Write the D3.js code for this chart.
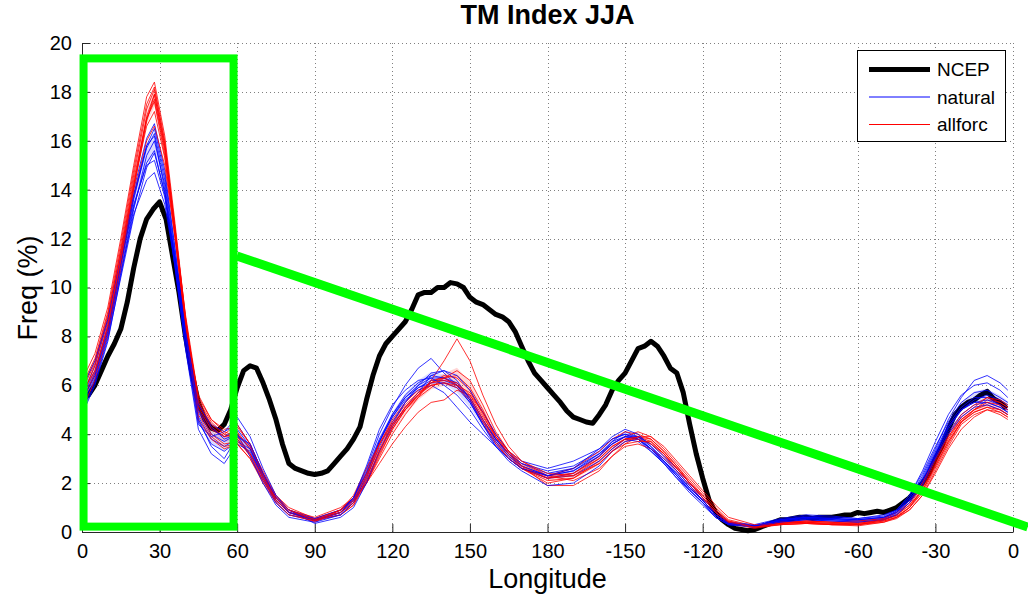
<!DOCTYPE html>
<html>
<head>
<meta charset="utf-8">
<script src="https://cdn.jsdelivr.net/npm/d3@7"></script>
<style>
  html, body { margin: 0; padding: 0; background: #fff; }
  svg { display: block; }
</style>
</head>
<body>
<svg id="chart"></svg>
<script>
"use strict";

// Longitude grid of the NCEP reanalysis (2.5 degree)
const ncepLon = d3.range(0, 360, 2.5);

// NCEP blocking frequency (%)
const ncepFreq = [
    5.4, 5.6, 6.0, 6.6, 7.2, 7.7, 8.3, 9.4, 10.8, 12.0,
    12.8, 13.2, 13.5, 12.8, 11.3, 9.8, 8.0, 6.5, 5.3, 4.6,
    4.25, 4.15, 4.4, 5.0, 5.9, 6.6, 6.8, 6.7, 6.1, 5.4,
    4.6, 3.6, 2.8, 2.6, 2.5, 2.4, 2.35, 2.4, 2.5, 2.8,
    3.1, 3.4, 3.8, 4.3, 5.4, 6.4, 7.2, 7.7, 8.0, 8.3,
    8.6, 9.1, 9.7, 9.8, 9.8, 10.0, 10.0, 10.2, 10.15, 10.0,
    9.6, 9.4, 9.3, 9.1, 8.9, 8.8, 8.6, 8.2, 7.6, 7.0,
    6.5, 6.2, 5.9, 5.6, 5.3, 4.95, 4.7, 4.6, 4.5, 4.45,
    4.8, 5.2, 5.8, 6.2, 6.5, 7.0, 7.5, 7.6, 7.8, 7.6,
    7.2, 6.7, 6.5, 5.7, 4.4, 3.2, 2.2, 1.3, 0.8, 0.5,
    0.3, 0.15, 0.1, 0.05, 0.1, 0.2, 0.3, 0.4, 0.5, 0.5,
    0.55, 0.6, 0.6, 0.55, 0.6, 0.6, 0.6, 0.65, 0.7, 0.7,
    0.8, 0.75, 0.8, 0.85, 0.8, 0.9, 1.0, 1.2, 1.4, 1.7,
    2.0, 2.4, 3.0, 3.5, 4.2, 4.8, 5.1, 5.3, 5.4, 5.6,
    5.75, 5.45, 5.3, 5.05
];

// Longitude grid of the model runs
const modelLon = [
    0, 5, 10, 15, 20, 25, 28, 32, 36, 40,
    45, 50, 55, 60, 65, 70, 75, 80, 90, 100,
    105, 110, 115, 120, 125, 130, 135, 140, 145, 150,
    155, 160, 165, 170, 180, 190, 200, 205, 210, 215,
    220, 225, 230, 235, 240, 245, 250, 260, 270, 280,
    290, 300, 310, 315, 320, 325, 330, 335, 340, 345,
    350, 355, 358
];

// "natural" ensemble members
const natural1 = [5.6,6.8,8.6,11.3,14.0,16.1,16.7,14.8,11.6,8.3, 4.9,4.0,3.7,4.0,3.4,2.2,1.2,0.7,0.45,0.8, 1.4,2.6,4.0,5.1,6.0,6.7,7.1,6.5,6.0,5.3, 4.4,3.6,3.0,2.6,2.2,2.4,3.1,3.7,4.1,3.9, 3.4,2.9,2.3,1.7,1.2,0.6,0.3,0.25,0.5,0.6, 0.55,0.5,0.6,0.85,1.4,2.3,3.4,4.6,5.5,6.2, 6.4,6.1,5.8];
const natural2 = [5.3,6.5,8.3,11.0,13.7,15.7,16.3,14.4,11.3,8.0, 4.7,3.8,3.5,3.8,3.2,2.1,1.2,0.7,0.5,0.7, 1.2,2.3,3.7,4.8,5.6,6.1,6.4,6.3,6.0,5.5, 4.6,3.8,3.2,2.8,2.4,2.6,3.2,3.7,3.9,3.8, 3.4,2.9,2.4,1.8,1.3,0.7,0.35,0.25,0.45,0.55, 0.5,0.45,0.55,0.8,1.3,2.1,3.2,4.3,5.0,5.4, 5.6,5.4,5.2];
const natural3 = [4.8,6.0,7.8,10.5,13.2,15.4,16.0,14.2,11.1,7.8, 4.5,3.6,3.3,3.7,3.4,2.3,1.3,0.8,0.55,0.9, 1.4,2.4,3.7,4.7,5.4,5.8,6.0,5.7,5.1,4.5, 4.0,3.5,3.0,2.6,2.2,2.3,2.9,3.4,3.8,3.7, 3.3,2.8,2.3,1.7,1.2,0.7,0.35,0.25,0.4,0.5, 0.45,0.4,0.5,0.75,1.2,2.0,3.1,4.1,4.8,5.2, 5.3,5.1,4.9];
const natural4 = [5.1,6.2,8.0,10.7,13.3,15.1,15.6,13.8,10.8,7.5, 4.2,3.2,2.8,3.6,3.3,2.2,1.3,0.8,0.5,0.8, 1.3,2.2,3.5,4.5,5.3,5.9,6.2,6.2,6.0,5.4, 4.5,3.8,3.2,2.8,2.5,2.7,3.3,3.8,4.0,3.8, 3.3,2.8,2.2,1.7,1.2,0.6,0.3,0.25,0.45,0.6, 0.55,0.5,0.6,0.85,1.4,2.2,3.3,4.4,5.1,5.5, 5.5,5.2,5.0];
const natural5 = [5.5,6.6,8.4,11.0,13.4,15.0,15.2,13.7,11.0,8.1, 5.0,4.2,3.9,4.2,3.5,2.3,1.4,0.9,0.5,0.8, 1.3,2.4,3.7,4.7,5.5,6.0,6.3,6.3,6.1,5.5, 4.6,3.8,3.2,2.7,2.3,2.5,3.2,3.6,3.9,3.9, 3.5,3.0,2.5,1.9,1.3,0.7,0.35,0.25,0.45,0.55, 0.5,0.45,0.55,0.8,1.3,2.0,3.1,4.2,5.0,5.3, 5.4,5.2,5.0];
const natural6 = [5.2,6.3,8.1,10.6,13.0,14.4,14.7,13.4,10.9,8.0, 5.2,4.4,4.1,4.4,3.6,2.4,1.4,0.9,0.55,0.9, 1.4,2.5,3.8,4.8,5.5,5.9,6.1,6.1,5.9,5.3, 4.4,3.7,3.1,2.7,2.3,2.5,3.1,3.6,3.9,3.8, 3.4,2.9,2.4,1.8,1.3,0.7,0.35,0.25,0.5,0.6, 0.55,0.5,0.6,0.8,1.3,2.1,3.2,4.3,5.0,5.3, 5.3,5.1,4.9];
const natural7 = [5.9,7.0,8.7,11.2,13.8,15.8,16.2,14.0,10.8,7.6, 4.4,3.9,4.1,4.7,3.9,2.6,1.5,0.9,0.35,0.6, 1.0,2.0,3.3,4.4,5.3,6.0,6.5,6.6,6.4,5.8, 4.9,4.0,3.3,2.9,2.6,2.9,3.4,3.8,4.0,3.9, 3.6,3.1,2.6,2.0,1.4,0.8,0.4,0.3,0.55,0.7, 0.65,0.55,0.7,0.9,1.5,2.5,3.7,4.8,5.6,6.0, 6.1,5.8,5.5];
const natural8 = [4.9,6.1,7.9,10.4,12.9,14.9,15.5,13.9,11.2,8.2, 5.3,4.3,3.8,4.0,3.1,2.0,1.1,0.6,0.4,0.7, 1.2,2.1,3.3,4.3,5.1,5.7,6.4,6.6,6.2,5.4, 4.4,3.5,2.9,2.5,1.9,2.0,2.7,3.3,3.7,3.8, 3.4,2.8,2.2,1.6,1.1,0.6,0.3,0.2,0.4,0.5, 0.45,0.4,0.5,0.7,1.2,1.9,3.0,4.0,4.7,5.1, 5.2,5.0,4.8];
const natural9 = [5.4,6.4,8.2,10.9,13.6,15.8,16.5,14.6,11.5,8.2, 4.6,3.5,3.0,3.9,3.6,2.4,1.4,0.8,0.5,0.8, 1.4,2.7,4.2,5.2,5.8,6.2,6.3,6.0,5.6,5.0, 4.2,3.5,3.0,2.6,2.3,2.6,3.4,3.9,4.2,4.0, 3.5,2.9,2.3,1.8,1.3,0.7,0.35,0.25,0.5,0.65, 0.6,0.55,0.65,0.9,1.5,2.4,3.5,4.5,5.3,5.7, 5.8,5.5,5.3];

// "allforc" ensemble members
const allforc1 = [6.2,7.3,9.2,12.0,15.0,17.8,18.4,16.2,12.6,8.8, 5.2,4.3,3.9,4.1,3.4,2.4,1.5,0.9,0.45,0.7, 1.1,2.0,3.2,4.2,5.0,5.6,6.1,6.4,6.3,5.8, 4.8,3.8,3.1,2.6,2.0,2.2,2.9,3.4,3.8,3.9, 3.8,3.3,2.7,2.0,1.4,0.8,0.4,0.2,0.3,0.35, 0.3,0.3,0.45,0.6,1.0,1.6,2.6,3.6,4.5,5.0, 5.4,5.3,5.1];
const allforc2 = [5.8,6.9,8.8,11.6,14.6,17.3,18.1,15.9,12.4,8.7, 5.4,4.5,4.0,3.8,3.1,2.1,1.3,0.8,0.4,0.9, 1.3,2.0,3.0,4.0,4.8,5.5,6.2,7.0,7.9,7.0, 5.6,4.4,3.5,2.9,2.3,2.4,3.1,3.6,3.9,4.1, 3.9,3.4,2.8,2.2,1.6,1.0,0.5,0.25,0.4,0.45, 0.4,0.3,0.5,0.7,1.2,2.0,3.0,3.9,4.6,5.0, 5.2,5.0,4.8];
const allforc3 = [5.3,6.4,8.3,11.0,14.0,16.8,17.9,15.8,12.4,8.8, 5.0,4.0,3.6,3.7,3.2,2.3,1.4,0.9,0.6,1.0, 1.4,2.0,2.8,3.6,4.3,4.9,5.3,5.4,5.8,5.6, 4.9,4.0,3.3,2.8,2.3,2.1,2.6,3.1,3.5,3.6, 3.4,3.0,2.5,1.9,1.3,0.7,0.35,0.15,0.3,0.35, 0.3,0.25,0.4,0.6,0.9,1.5,2.5,3.5,4.4,4.8, 5.0,4.8,4.6];
const allforc4 = [5.5,6.8,8.7,11.4,14.4,16.9,17.6,15.4,12.0,8.4, 4.8,3.9,3.5,3.6,3.0,2.1,1.3,0.8,0.5,0.7, 1.1,2.2,3.6,4.6,5.3,5.8,6.1,6.3,6.4,5.9, 5.0,3.9,3.2,2.6,2.1,2.2,2.8,3.3,3.7,3.9, 3.6,3.1,2.5,1.9,1.3,0.7,0.35,0.2,0.35,0.4, 0.35,0.4,0.5,0.7,1.1,1.9,2.9,3.9,4.7,5.1, 5.5,5.3,5.1];
const allforc5 = [5.9,7.0,8.9,11.5,14.2,16.6,17.2,15.3,12.1,8.6, 5.1,4.2,3.9,4.0,3.5,2.5,1.5,1.0,0.55,0.9, 1.4,2.4,3.6,4.5,5.2,5.7,6.0,6.1,6.0,5.5, 4.6,3.7,3.0,2.6,2.3,2.6,3.3,3.8,4.1,4.0, 3.8,3.3,2.7,2.1,1.5,0.9,0.45,0.2,0.4,0.45, 0.4,0.45,0.55,0.8,1.2,2.0,3.0,4.0,4.8,5.2, 5.5,5.4,5.2];
const allforc6 = [5.0,6.2,8.1,10.8,13.8,16.0,16.6,15.0,12.0,8.5, 5.6,4.6,4.2,4.3,3.6,2.4,1.4,0.9,0.5,0.8, 1.2,2.0,3.1,4.2,5.0,5.6,6.0,6.1,5.9,5.4, 4.5,3.6,3.0,2.6,2.2,2.4,3.0,3.5,3.8,3.9, 3.7,3.2,2.6,2.0,1.4,0.8,0.4,0.2,0.35,0.4, 0.35,0.35,0.5,0.7,1.1,1.7,2.7,3.7,4.5,4.9, 5.1,4.9,4.7];
const allforc7 = [6.0,7.1,9.0,11.8,14.8,17.5,18.2,16.0,12.3,8.3, 4.6,3.8,3.4,3.6,3.0,2.0,1.2,0.7,0.45,0.9, 1.5,2.6,3.6,4.4,5.0,5.5,5.9,6.3,6.6,6.2, 5.2,4.1,3.3,2.7,1.9,1.9,2.5,3.1,3.6,3.9, 3.9,3.5,2.9,2.3,1.7,1.1,0.6,0.3,0.35,0.4, 0.3,0.3,0.4,0.55,0.9,1.5,2.4,3.4,4.2,4.7, 5.0,4.9,4.7];
const allforc8 = [5.4,6.5,8.5,11.2,14.2,17.0,17.9,15.7,12.2,8.7, 5.3,4.4,4.0,4.4,3.6,2.3,1.3,0.8,0.5,0.9, 1.3,2.3,3.4,4.4,5.1,5.6,6.2,6.3,6.0,5.7, 4.9,3.9,3.2,2.7,2.2,2.3,3.0,3.5,3.8,3.8, 3.6,3.2,2.6,2.0,1.4,0.8,0.4,0.2,0.35,0.45, 0.4,0.35,0.5,0.65,1.0,1.8,2.8,3.8,4.6,5.0, 5.3,5.2,5.0];
const allforc9 = [5.7,6.6,8.4,11.1,14.1,16.9,17.7,15.6,12.3,8.9, 5.5,4.6,4.1,3.9,3.2,2.2,1.4,0.9,0.5,0.8, 1.2,2.1,3.3,4.3,5.1,5.7,6.1,6.2,6.1,5.6, 4.7,3.9,3.3,2.9,2.4,2.3,2.8,3.3,3.6,3.7, 3.7,3.2,2.6,2.0,1.5,0.9,0.45,0.2,0.3,0.35, 0.3,0.3,0.45,0.6,1.0,1.7,2.7,3.7,4.5,4.9, 5.1,5.0,4.8];

const naturalRuns = [natural1, natural2, natural3, natural4, natural5, natural6, natural7, natural8, natural9];
const allforcRuns = [allforc1, allforc2, allforc3, allforc4, allforc5, allforc6, allforc7, allforc8, allforc9];

// Axis ticks
const xTicks = [0, 30, 60, 90, 120, 150, 180, 210, 240, 270, 300, 330, 360];
const xTickLabels = ["0", "30", "60", "90", "120", "150", "180", "-150", "-120", "-90", "-60", "-30", "0"];
const yTicks = [0, 2, 4, 6, 8, 10, 12, 14, 16, 18, 20];

// Green highlight box and line (data units)
const boxLon = [0.6, 58.6], boxFreq = [0.22, 19.37];
const arrowLon = [59.9, 365.7], arrowFreq = [11.29, 0.2];

const font = "'Liberation Sans', Arial, Helvetica, sans-serif";
const width = 1028, height = 605;

const svg = d3.select("#chart")
    .attr("width", width)
    .attr("height", height);

const x = d3.scaleLinear().domain([0, 360]).range([82, 1013]),
    y = d3.scaleLinear().domain([0, 20]).range([532, 43]);

// dotted grid
const grid = svg.append("g")
    .attr("stroke", "#808080")
    .attr("stroke-width", 1)
    .attr("stroke-dasharray", "1,3");
grid.selectAll("line.vx")
    .data(xTicks.slice(1))
    .join("line")
    .attr("x1", (d) => Math.round(x(d)) + 0.5)
    .attr("x2", (d) => Math.round(x(d)) + 0.5)
    .attr("y1", y(0))
    .attr("y2", y(20));
grid.selectAll("line.hy")
    .data(yTicks.slice(1))
    .join("line")
    .attr("x1", x(0))
    .attr("x2", x(360))
    .attr("y1", (d) => Math.round(y(d)) + 0.5)
    .attr("y2", (d) => Math.round(y(d)) + 0.5);

// axes
const xAxis = svg.append("g")
    .attr("transform", `translate(0,${y(0)})`)
    .call(d3.axisBottom(x)
        .tickValues(xTicks)
        .tickFormat((d, i) => xTickLabels[i])
        .tickSize(-8)
        .tickSizeOuter(0)
        .tickPadding(12));
const yAxis = svg.append("g")
    .attr("transform", `translate(${x(0)},0)`)
    .call(d3.axisLeft(y)
        .tickValues(yTicks)
        .tickSize(-8)
        .tickSizeOuter(0)
        .tickPadding(10));
[xAxis, yAxis].forEach((g) => {
    g.attr("font-size", 20).attr("font-family", font);
    g.selectAll("path, line").attr("stroke", "#262626");
    g.selectAll("text").attr("fill", "#000");
});

// NCEP
const ncepLine = d3.line()
    .x((d, i) => x(ncepLon[i]))
    .y((d) => y(d));
svg.append("path")
    .datum(ncepFreq)
    .attr("fill", "none")
    .attr("stroke", "#000")
    .attr("stroke-width", 5)
    .attr("stroke-linejoin", "round")
    .attr("d", ncepLine);

// ensemble spread bands
function band(runs) {
    return modelLon.map((lon, i) => {
        const vals = runs.map((r) => r[i]);
        const m = d3.mean(vals), s = d3.deviation(vals);
        return {lon: lon, lo: m - 0.6 * s, hi: m + 0.6 * s};
    });
}
const bandArea = d3.area()
    .x((d) => x(d.lon))
    .y0((d) => y(d.lo))
    .y1((d) => y(d.hi));
svg.append("path")
    .datum(band(allforcRuns))
    .attr("fill", "#ff0000")
    .attr("fill-opacity", 0.16)
    .attr("d", bandArea);
svg.append("path")
    .datum(band(naturalRuns))
    .attr("fill", "#0000ff")
    .attr("fill-opacity", 0.14)
    .attr("d", bandArea);

// ensemble members
const modelLine = d3.line()
    .x((d, i) => x(modelLon[i]))
    .y((d) => y(d));
const runs = [];
naturalRuns.forEach((r, i) => {
    runs.push({values: r, color: "#0000ff"});
    runs.push({values: allforcRuns[i], color: "#ff0000"});
});
svg.append("g")
    .selectAll("path")
    .data(runs)
    .join("path")
    .attr("fill", "none")
    .attr("stroke", (d) => d.color)
    .attr("stroke-width", 1)
    .attr("stroke-opacity", 0.8)
    .attr("d", (d) => modelLine(d.values));

// title and axis labels
svg.append("text")
    .attr("x", (x(0) + x(360)) / 2)
    .attr("y", 24)
    .attr("text-anchor", "middle")
    .attr("font-family", font)
    .attr("font-size", 27)
    .attr("font-weight", "bold")
    .text("TM Index JJA");
svg.append("text")
    .attr("x", (x(0) + x(360)) / 2)
    .attr("y", 588)
    .attr("text-anchor", "middle")
    .attr("font-family", font)
    .attr("font-size", 27)
    .text("Longitude");
svg.append("text")
    .attr("transform", "translate(37,288) rotate(-90)")
    .attr("text-anchor", "middle")
    .attr("font-family", font)
    .attr("font-size", 27)
    .text("Freq (%)");

// legend
const legendItems = [
    {name: "NCEP", color: "#000", w: 5},
    {name: "natural", color: "#0000ff", w: 1},
    {name: "allforc", color: "#ff0000", w: 1}
];
const legend = svg.append("g").attr("transform", "translate(857,50)");
legend.append("rect")
    .attr("x", 0.5).attr("y", 0.5)
    .attr("width", 148).attr("height", 91)
    .attr("fill", "#fff")
    .attr("stroke", "#000");
legendItems.forEach((d, i) => {
    const ly = 19.5 + i * 27.5;
    legend.append("line")
        .attr("x1", 12).attr("x2", 73)
        .attr("y1", ly).attr("y2", ly)
        .attr("stroke", d.color)
        .attr("stroke-width", d.w);
    legend.append("text")
        .attr("x", 80).attr("y", ly)
        .attr("dy", "0.35em")
        .attr("font-family", font)
        .attr("font-size", 19)
        .text(d.name);
});

// green highlight
svg.append("rect")
    .attr("x", x(boxLon[0]))
    .attr("y", y(boxFreq[1]))
    .attr("width", x(boxLon[1]) - x(boxLon[0]))
    .attr("height", y(boxFreq[0]) - y(boxFreq[1]))
    .attr("fill", "none")
    .attr("stroke", "#00ff00")
    .attr("stroke-width", 8);
svg.append("line")
    .attr("x1", x(arrowLon[0])).attr("y1", y(arrowFreq[0]))
    .attr("x2", x(arrowLon[1])).attr("y2", y(arrowFreq[1]))
    .attr("stroke", "#00ff00")
    .attr("stroke-width", 9);
</script>
</body>
</html>
